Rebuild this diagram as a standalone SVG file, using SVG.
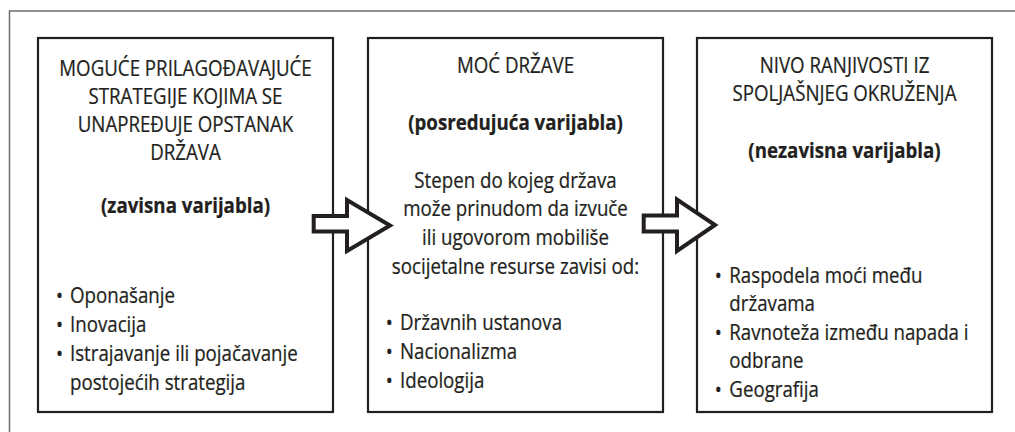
<svg xmlns="http://www.w3.org/2000/svg" width="1015" height="432" viewBox="0 0 1015 432">
<style>
.frame{fill:none;stroke:#6d6d6d;stroke-width:1.5}
.box{fill:#fff;stroke:#231f20;stroke-width:2.2}
.arrow{fill:#fff;stroke:#231f20;stroke-width:4;stroke-linejoin:miter}
text{font-family:"Open Sans","Noto Sans","Liberation Sans",sans-serif;font-size:22px;fill:#231f20;stroke:#231f20;stroke-width:0.25}
.c{text-anchor:middle}
.b{font-weight:bold}
</style>
<rect class="frame" x="9.5" y="11" width="1030" height="440"/>
<g id="box-zavisna">
<rect class="box" x="38" y="38" width="295" height="374"/>
<g transform="translate(185.5 0) scale(0.85 1)">
<text class="c" x="0" y="76">MOGUĆE PRILAGOĐAVAJUĆE</text>
<text class="c" x="0" y="104.5">STRATEGIJE KOJIMA SE</text>
<text class="c" x="0" y="132.5">UNAPREĐUJE OPSTANAK</text>
<text class="c" x="0" y="160">DRŽAVA</text>
<text class="c b" x="0" y="213">(zavisna varijabla)</text>
<text y="303"><tspan x="-152.4">•</tspan><tspan x="-135.9">Oponašanje</tspan></text>
<text y="332"><tspan x="-152.4">•</tspan><tspan x="-135.9">Inovacija</tspan></text>
<text y="361"><tspan x="-152.4">•</tspan><tspan x="-135.9">Istrajavanje ili pojačavanje</tspan></text>
<text x="-135.9" y="390">postojećih strategija</text>
</g>
</g>
<g id="box-posredujuca">
<rect class="box" x="368" y="38" width="295" height="374"/>
<g transform="translate(515.5 0) scale(0.85 1)">
<text class="c" x="0" y="73.5">MOĆ DRŽAVE</text>
<text class="c b" x="0" y="130">(posredujuća varijabla)</text>
<text class="c" x="0" y="188">Stepen do kojeg država</text>
<text class="c" x="0" y="216.5">može prinudom da izvuče</text>
<text class="c" x="0" y="245">ili ugovorom mobiliše</text>
<text class="c" x="0" y="274">socijetalne resurse zavisi od:</text>
<text y="330"><tspan x="-152.6">•</tspan><tspan x="-135.9">Državnih ustanova</tspan></text>
<text y="359"><tspan x="-152.6">•</tspan><tspan x="-135.9">Nacionalizma</tspan></text>
<text y="388"><tspan x="-152.6">•</tspan><tspan x="-135.9">Ideologija</tspan></text>
</g>
</g>
<g id="box-nezavisna">
<rect class="box" x="697" y="38" width="295" height="374"/>
<g transform="translate(844.5 0) scale(0.85 1)">
<text class="c" x="0" y="73.5">NIVO RANJIVOSTI IZ</text>
<text class="c" x="0" y="101.5">SPOLJAŠNJEG OKRUŽENJA</text>
<text class="c b" x="0" y="158">(nezavisna varijabla)</text>
<text y="283"><tspan x="-152.6">•</tspan><tspan x="-135.5">Raspodela moći među</tspan></text>
<text x="-135.5" y="311.5">državama</text>
<text y="340"><tspan x="-152.6">•</tspan><tspan x="-135.5">Ravnoteža između napada i</tspan></text>
<text x="-135.5" y="368.5">odbrane</text>
<text y="397"><tspan x="-152.6">•</tspan><tspan x="-135.5">Geografija</tspan></text>
</g>
</g>
<g id="connectors">
<path class="arrow" d="M313.7,216 H347 V200 L390,225.5 L347,251 V231.5 H313.7 Z"/>
<path class="arrow" d="M643.7,215.5 H677 V199.5 L715,225 L677,251 V231.5 H643.7 Z"/>
</g>
</svg>
